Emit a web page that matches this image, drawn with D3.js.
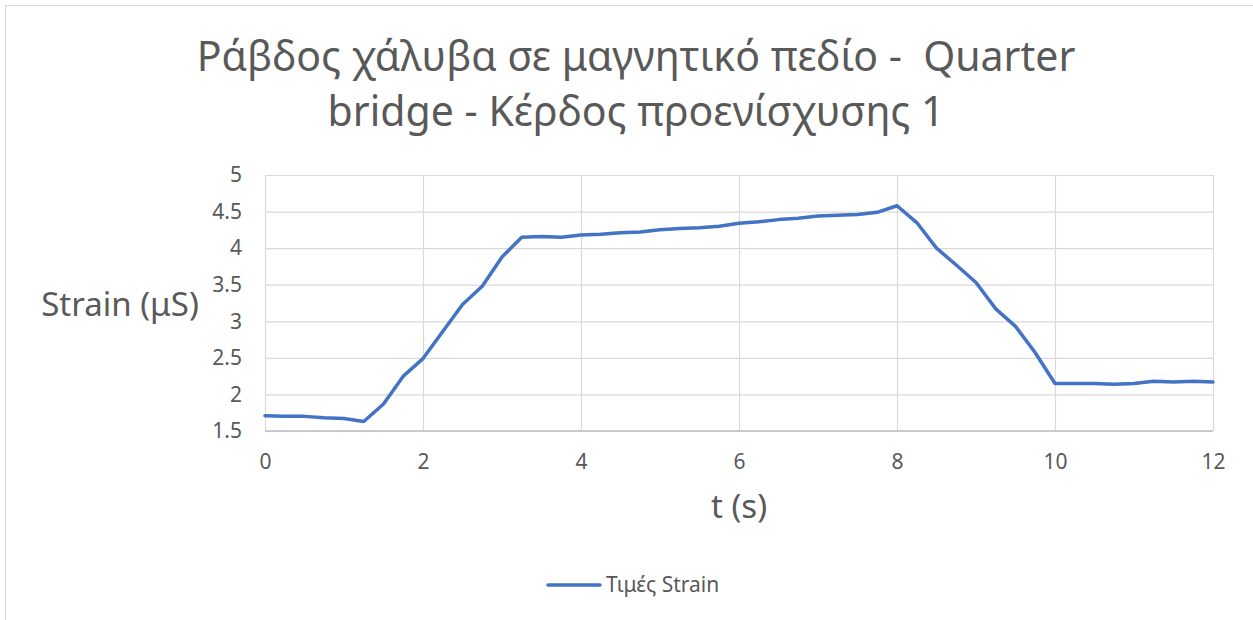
<!DOCTYPE html>
<html>
<head>
<meta charset="utf-8">
<script src="https://cdn.jsdelivr.net/npm/d3@7"></script>
<style>
  html, body { margin: 0; padding: 0; background: #ffffff; }
  svg { display: block; }
  text { font-family: "Noto Sans", "Open Sans", sans-serif; fill: #595959; }
</style>
</head>
<body>
<svg id="chart" width="1253" height="620"></svg>
<script>
// Time samples (s)
const times = [0, 0.25, 0.5, 0.75, 1, 1.25, 1.5, 1.75, 2, 2.25, 2.5, 2.75, 3, 3.25, 3.5, 3.75,
  4, 4.25, 4.5, 4.75, 5, 5.25, 5.5, 5.75, 6, 6.25, 6.5, 6.75, 7, 7.25, 7.5, 7.75,
  8, 8.25, 8.5, 8.75, 9, 9.25, 9.5, 9.75, 10, 10.25, 10.5, 10.75, 11, 11.25, 11.5, 11.75, 12];

// Strain readings (μS)
const strain = [1.71, 1.70, 1.70, 1.68, 1.67, 1.63, 1.87, 2.25, 2.49, 2.86, 3.23, 3.48, 3.88, 4.15, 4.16, 4.15,
  4.18, 4.19, 4.21, 4.22, 4.25, 4.27, 4.28, 4.30, 4.34, 4.36, 4.39, 4.41, 4.44, 4.45, 4.46, 4.49,
  4.58, 4.35, 4.00, 3.77, 3.53, 3.17, 2.93, 2.57, 2.15, 2.15, 2.15, 2.14, 2.15, 2.18, 2.17, 2.18, 2.17];

const xTicks = [0, 2, 4, 6, 8, 10, 12];
const yTicks = [1.5, 2, 2.5, 3, 3.5, 4, 4.5, 5];

const titleLines = ["Ράβδος χάλυβα σε μαγνητικό πεδίο -  Quarter", "bridge - Κέρδος προενίσχυσης 1"];
const yTitle = "Strain (μS)";
const xTitle = "t (s)";
const seriesName = "Τιμές Strain";

const svg = d3.select("#chart");

// chart frame
svg.append("rect")
  .attr("x", 5.5).attr("y", 5.5)
  .attr("width", 1300).attr("height", 700)
  .attr("fill", "none").attr("stroke", "#d9d9d9").attr("stroke-width", 1);

const plot = { left: 265, right: 1213, top: 175, bottom: 431 };

const x = d3.scaleLinear().domain([0, 12]).range([plot.left, plot.right]);
const y = d3.scaleLinear().domain([1.5, 5]).range([plot.bottom, plot.top]);

// horizontal gridlines
svg.append("g")
  .attr("transform", `translate(${plot.left},0)`)
  .call(d3.axisLeft(y).tickValues(yTicks).tickSize(-(plot.right - plot.left)).tickFormat(""))
  .call(g => g.select(".domain").remove())
  .call(g => g.selectAll("line").attr("stroke", "#d9d9d9").attr("stroke-width", 1.2));

// vertical gridlines
svg.append("g")
  .attr("transform", `translate(0,${plot.bottom})`)
  .call(d3.axisBottom(x).tickValues(xTicks).tickSize(-(plot.bottom - plot.top)).tickFormat(""))
  .call(g => g.select(".domain").remove())
  .call(g => g.selectAll("line").attr("stroke", "#d9d9d9").attr("stroke-width", 1.2));

// bottom axis line
svg.append("line")
  .attr("x1", plot.left).attr("x2", plot.right)
  .attr("y1", y(1.5)).attr("y2", y(1.5))
  .attr("stroke", "#bfbfbf").attr("stroke-width", 1.3);

// y tick labels
svg.append("g")
  .attr("transform", `translate(${plot.left},0)`)
  .call(d3.axisLeft(y).tickValues(yTicks).tickSize(0).tickPadding(23).tickFormat(d3.format("")))
  .call(g => g.select(".domain").remove())
  .call(g => g.selectAll("text")
    .attr("font-family", "Noto Sans").attr("font-size", 21).attr("fill", "#595959"));

// x tick labels
svg.append("g")
  .attr("transform", `translate(0,${plot.bottom})`)
  .call(d3.axisBottom(x).tickValues(xTicks).tickSize(0).tickPadding(23).tickFormat(d3.format("")))
  .call(g => g.select(".domain").remove())
  .call(g => g.selectAll("text")
    .attr("font-family", "Noto Sans").attr("font-size", 21).attr("fill", "#595959"));

// data line
const line = d3.line()
  .x((d, i) => x(times[i]))
  .y(d => y(d));

svg.append("path")
  .datum(strain)
  .attr("d", line)
  .attr("fill", "none")
  .attr("stroke", "#4472C4")
  .attr("stroke-width", 3.5)
  .attr("stroke-linejoin", "round")
  .attr("stroke-linecap", "round");

// chart title
svg.append("text")
  .attr("text-anchor", "middle")
  .attr("font-size", 41)
  .selectAll("tspan")
  .data(titleLines)
  .join("tspan")
  .attr("x", 636)
  .attr("y", (d, i) => 71 + i * 55)
  .attr("xml:space", "preserve")
  .style("white-space", "pre")
  .text(d => d);

// axis titles
svg.append("text")
  .attr("x", 120).attr("y", 316)
  .attr("text-anchor", "middle")
  .attr("font-size", 33)
  .text(yTitle);

svg.append("text")
  .attr("x", 739).attr("y", 518)
  .attr("text-anchor", "middle")
  .attr("font-size", 33)
  .text(xTitle);

// legend
const legend = svg.append("g").attr("transform", "translate(548,585)");
legend.append("line")
  .attr("x1", 0).attr("x2", 52).attr("y1", 0).attr("y2", 0)
  .attr("stroke", "#4472C4").attr("stroke-width", 3.5).attr("stroke-linecap", "round");
legend.append("text")
  .attr("x", 58).attr("y", 7)
  .attr("font-size", 21)
  .text(seriesName);
</script>
</body>
</html>
